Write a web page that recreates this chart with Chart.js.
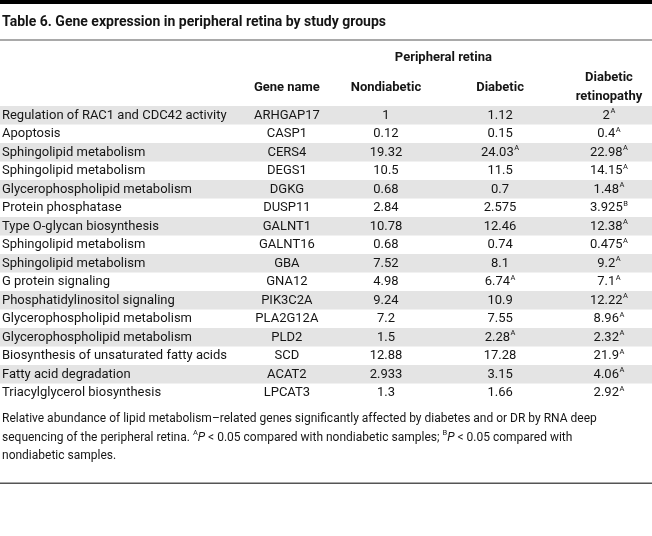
<!DOCTYPE html>
<html>
<head>
<meta charset="utf-8">
<script src="https://cdn.jsdelivr.net/npm/chart.js@4"></script>
<style>
  html, body { margin: 0; padding: 0; background: #fff; }
  #wrap { width: 652px; height: 536px; position: relative; }
</style>
</head>
<body>
<div id="wrap"><canvas id="tableChart"></canvas></div>
<script>
// table data
const tableTitle = 'Table 6. Gene expression in peripheral retina by study groups';
const groupHeader = 'Peripheral retina';
const columnHeaders = ['', 'Gene name', 'Nondiabetic', 'Diabetic', 'Diabetic\nretinopathy'];
const pathways = [
  'Regulation of RAC1 and CDC42 activity', 'Apoptosis', 'Sphingolipid metabolism',
  'Sphingolipid metabolism', 'Glycerophospholipid metabolism', 'Protein phosphatase',
  'Type O-glycan biosynthesis', 'Sphingolipid metabolism', 'Sphingolipid metabolism',
  'G protein signaling', 'Phosphatidylinositol signaling', 'Glycerophospholipid metabolism',
  'Glycerophospholipid metabolism', 'Biosynthesis of unsaturated fatty acids',
  'Fatty acid degradation', 'Triacylglycerol biosynthesis',
];
const geneNames = [
  'ARHGAP17', 'CASP1', 'CERS4', 'DEGS1', 'DGKG', 'DUSP11', 'GALNT1', 'GALNT16',
  'GBA', 'GNA12', 'PIK3C2A', 'PLA2G12A', 'PLD2', 'SCD', 'ACAT2', 'LPCAT3',
];
const nondiabetic = [1, 0.12, 19.32, 10.5, 0.68, 2.84, 10.78, 0.68, 7.52, 4.98, 9.24, 7.2, 1.5, 12.88, 2.933, 1.3];
const diabetic = [1.12, 0.15, 24.03, 11.5, 0.7, 2.575, 12.46, 0.74, 8.1, 6.74, 10.9, 7.55, 2.28, 17.28, 3.15, 1.66];
const retinopathy = [2, 0.4, 22.98, 14.15, 1.48, 3.925, 12.38, 0.475, 9.2, 7.1, 12.22, 8.96, 2.32, 21.9, 4.06, 2.92];
const nondiabeticSig = ['', '', '', '', '', '', '', '', '', '', '', '', '', '', '', ''];
const diabeticSig = ['', '', 'A', '', '', '', '', '', '', 'A', '', '', 'A', '', '', ''];
const retinopathySig = ['A', 'A', 'A', 'A', 'A', 'B', 'A', 'A', 'A', 'A', 'A', 'A', 'A', 'A', 'A', 'A'];
const footnote = [
  'Relative abundance of lipid metabolism–related genes significantly affected by diabetes and or DR by RNA deep',
  ['sequencing of the peripheral retina. ', ['A', 'sup'], ['P', 'i'], ' < 0.05 compared with nondiabetic samples; ', ['B', 'sup'], ['P', 'i'], ' < 0.05 compared with'],
  'nondiabetic samples.',
];

// layout (fractions of the x scale, 0..1)
const colX = [0.003, 0.44, 0.592, 0.767, 0.934];
const groupX = 0.68;
const FONT = 'Roboto, sans-serif';
const TEXT = '#151515';
const STRIPE = '#e4e4e4';

function drawValue(ctx, x, y, val, sig) {
  const main = String(val);
  ctx.font = '13px ' + FONT;
  const w1 = ctx.measureText(main).width;
  ctx.font = '7.5px ' + FONT;
  const w2 = sig ? ctx.measureText(sig).width + 0.5 : 0;
  const left = x - (w1 + w2) / 2;
  ctx.textAlign = 'left';
  ctx.font = '13px ' + FONT;
  ctx.fillText(main, left, y);
  if (sig) {
    ctx.font = '7.5px ' + FONT;
    ctx.fillText(sig, left + w1 + 0.5, y - 4);
  }
}

function drawRich(ctx, parts, x, y) {
  let cx = x;
  parts.forEach(p => {
    let txt = p, kind = '';
    if (Array.isArray(p)) { txt = p[0]; kind = p[1]; }
    if (kind === 'sup') {
      ctx.font = '7.5px ' + FONT;
      ctx.fillText(txt, cx, y - 4);
    } else if (kind === 'i') {
      ctx.font = 'italic 12px ' + FONT;
      ctx.fillText(txt, cx, y);
    } else {
      ctx.font = '12px ' + FONT;
      ctx.fillText(txt, cx, y);
    }
    cx += ctx.measureText(txt).width;
  });
}

const tablePlugin = {
  id: 'tablePlugin',
  beforeDatasetsDraw(chart) {
    const { ctx, scales: { x, y } } = chart;
    const band = y.getPixelForValue(1) - y.getPixelForValue(0);
    ctx.save();
    ctx.fillStyle = STRIPE;
    geneNames.forEach((g, i) => {
      if (i % 2 === 0) {
        const cy = y.getPixelForValue(i);
        ctx.fillRect(x.getPixelForValue(0), cy - band / 2, x.getPixelForValue(1) - x.getPixelForValue(0), band);
      }
    });
    ctx.restore();
  },
  afterDraw(chart) {
    const { ctx, scales: { x, y }, chartArea } = chart;
    const W = chart.width;
    ctx.save();
    ctx.fillStyle = TEXT;
    ctx.textBaseline = 'middle';

    // top rule and title
    ctx.fillStyle = '#000';
    ctx.fillRect(0, 0, W, 4);
    ctx.fillStyle = TEXT;
    ctx.font = 'bold 14px ' + FONT;
    ctx.textAlign = 'left';
    ctx.fillText(tableTitle, 2, 22);
    ctx.fillStyle = '#555';
    ctx.fillRect(0, 39.5, W, 1);

    // headers
    ctx.fillStyle = TEXT;
    ctx.font = 'bold 13px ' + FONT;
    ctx.textAlign = 'center';
    ctx.fillText(groupHeader, x.getPixelForValue(groupX), 58);
    columnHeaders.forEach((h, c) => {
      if (!h) return;
      const lines = h.split('\n');
      const cx = x.getPixelForValue(colX[c]);
      if (lines.length === 1) {
        ctx.fillText(lines[0], cx, 88);
      } else {
        ctx.fillText(lines[0], cx, 78);
        ctx.fillText(lines[1], cx, 97);
      }
    });

    // body cells
    geneNames.forEach((g, i) => {
      const cy = y.getPixelForValue(i);
      ctx.font = '13px ' + FONT;
      ctx.textAlign = 'left';
      ctx.fillText(pathways[i], x.getPixelForValue(colX[0]), cy);
      ctx.textAlign = 'center';
      ctx.fillText(g, x.getPixelForValue(colX[1]), cy);
      drawValue(ctx, x.getPixelForValue(colX[2]), cy, nondiabetic[i], nondiabeticSig[i]);
      drawValue(ctx, x.getPixelForValue(colX[3]), cy, diabetic[i], diabeticSig[i]);
      drawValue(ctx, x.getPixelForValue(colX[4]), cy, retinopathy[i], retinopathySig[i]);
    });

    // footnote
    ctx.textAlign = 'left';
    const fy = chartArea.bottom + 17;
    footnote.forEach((line, k) => {
      const parts = Array.isArray(line) ? line : [line];
      drawRich(ctx, parts, 2, fy + k * 18.5);
    });

    ctx.fillStyle = '#555';
    ctx.fillRect(0, 482.5, W, 1.5);
    ctx.restore();
  },
};

const ctx = document.getElementById('tableChart').getContext('2d');
const tableChart = new Chart(ctx, {
  type: 'bar',
  data: {
    labels: geneNames,
    datasets: [],
  },
  options: {
    indexAxis: 'y',
    responsive: true,
    maintainAspectRatio: false,
    animation: false,
    layout: {
      padding: { top: 106, bottom: 134, left: 0, right: 0 },
    },
    scales: {
      x: { type: 'linear', min: 0, max: 1, display: false },
      y: { type: 'category', offset: true, display: false },
    },
    plugins: {
      legend: { display: false },
      tooltip: { enabled: false },
    },
  },
  plugins: [tablePlugin],
});
</script>
</body>
</html>
